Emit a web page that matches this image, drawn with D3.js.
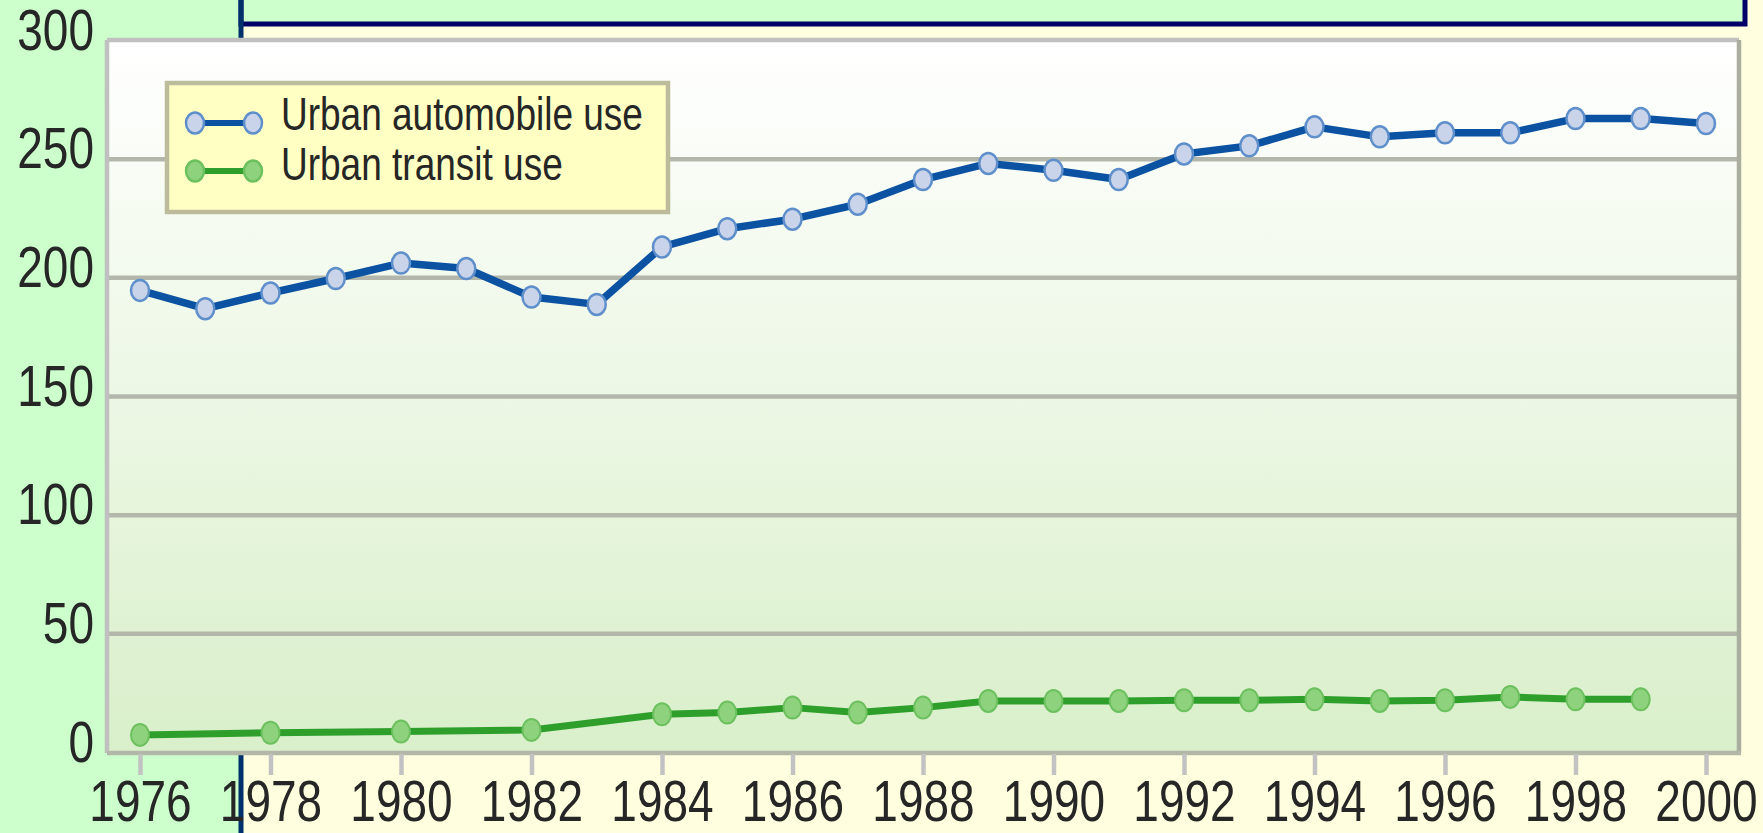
<!DOCTYPE html>
<html>
<head>
<meta charset="utf-8">
<script src="https://cdn.jsdelivr.net/npm/d3@7"></script>
<style>
  body { margin: 0; background: #ffffe0; overflow: hidden; }
  text { font-family: "Liberation Sans", Arial, sans-serif; fill: #262626; }
</style>
</head>
<body>
<div id="chart"></div>
<script>
// Data
const autoYears = [1976, 1977, 1978, 1979, 1980, 1981, 1982, 1983, 1984, 1985, 1986, 1987, 1988,
  1989, 1990, 1991, 1992, 1993, 1994, 1995, 1996, 1997, 1998, 1999, 2000];
const autoUse = [194.5, 186.8, 193.4, 199.5, 206, 203.7, 191.7, 188.6, 212.8, 220.5, 224.5, 230.8, 241.2,
  248, 245.1, 241.2, 252, 255.4, 263.4, 259.2, 260.9, 260.9, 266.9, 266.9, 264.8];
const transitYears = [1976, 1978, 1980, 1982, 1984, 1985, 1986, 1987, 1988, 1989, 1990, 1991, 1992,
  1993, 1994, 1995, 1996, 1997, 1998, 1999];
const transitUse = [7.2, 8.1, 8.6, 9.3, 15.9, 16.6, 18.7, 16.6, 18.7, 21.5, 21.5, 21.5, 21.8,
  21.8, 22.2, 21.5, 21.8, 23.2, 22.2, 22.2];
const xTickYears = [1976, 1978, 1980, 1982, 1984, 1986, 1988, 1990, 1992, 1994, 1996, 1998, 2000];
const yTickValues = [0, 50, 100, 150, 200, 250, 300];
const seriesNames = ["Urban automobile use", "Urban transit use"];

// Page and plot geometry
const W = 1763, H = 833;
const plot = { left: 107, right: 1739, top: 40, bottom: 753 };
const textStretch = 1.25;

const svg = d3.select("#chart").append("svg")
  .attr("width", W)
  .attr("height", H);

// Page backgrounds behind the chart
svg.append("rect").attr("x", 0).attr("y", 0).attr("width", 240).attr("height", H).attr("fill", "#ccffcc");
svg.append("rect").attr("x", 241).attr("y", -10).attr("width", 1504).attr("height", 34)
  .attr("fill", "#ccffcc").attr("stroke", "#000066").attr("stroke-width", 5);
svg.append("line").attr("x1", 241).attr("x2", 241).attr("y1", 0).attr("y2", H)
  .attr("stroke", "#00306a").attr("stroke-width", 5);

// Plot background gradient
const defs = svg.append("defs");
const grad = defs.append("linearGradient").attr("id", "plotBg")
  .attr("x1", 0).attr("y1", 0).attr("x2", 0).attr("y2", 1);
grad.append("stop").attr("offset", "0%").attr("stop-color", "#ffffff");
grad.append("stop").attr("offset", "100%").attr("stop-color", "#d9efca");

svg.append("rect")
  .attr("x", plot.left).attr("y", plot.top)
  .attr("width", plot.right - plot.left).attr("height", plot.bottom - plot.top)
  .attr("fill", "url(#plotBg)");

// Scales
const x = d3.scaleLinear().domain([1976, 2000]).range([140, 1706]);
const y = d3.scaleLinear().domain([0, 300]).range([plot.bottom - 1, plot.top]);

// Gridlines
svg.append("g")
  .attr("transform", `translate(${plot.left}, 0)`)
  .call(d3.axisLeft(y).tickValues(yTickValues.filter((d) => d > 0 && d < 300))
    .tickSize(-(plot.right - plot.left)).tickFormat(""))
  .call((g) => g.select(".domain").remove())
  .selectAll("line")
  .attr("stroke", "#b3b7ab")
  .attr("stroke-width", 4.5);

// Plot border
svg.append("line").attr("x1", plot.left).attr("x2", plot.right).attr("y1", plot.top).attr("y2", plot.top)
  .attr("stroke", "#c0c0c0").attr("stroke-width", 4.5);
svg.append("line").attr("x1", plot.left).attr("x2", plot.left).attr("y1", plot.top).attr("y2", plot.bottom)
  .attr("stroke", "#c0c0c0").attr("stroke-width", 4.5);
svg.append("line").attr("x1", plot.right).attr("x2", plot.right).attr("y1", plot.top).attr("y2", plot.bottom)
  .attr("stroke", "#aaae9e").attr("stroke-width", 4.5);
svg.append("line").attr("x1", plot.left).attr("x2", plot.right + 2).attr("y1", plot.bottom).attr("y2", plot.bottom)
  .attr("stroke", "#b3b7a8").attr("stroke-width", 4.5);

// Y axis labels
svg.append("g")
  .attr("transform", `translate(${plot.left}, 0)`)
  .call(d3.axisLeft(y).tickValues(yTickValues).tickSize(0))
  .call((g) => g.select(".domain").remove())
  .selectAll("text")
  .attr("x", null)
  .attr("dy", null)
  .attr("text-anchor", "end")
  .attr("transform", `translate(-13, 9) scale(1, ${textStretch})`)
  .style("font-size", "46px")
  .style("fill", "#262626");

// X axis ticks and labels
svg.append("g")
  .attr("transform", `translate(0, ${plot.bottom + 1})`)
  .call(d3.axisBottom(x).tickValues(xTickYears).tickSize(21).tickFormat(d3.format("d")))
  .call((g) => g.select(".domain").remove())
  .call((g) => g.selectAll("line").attr("stroke", "#c2c2c2").attr("stroke-width", 4.5))
  .selectAll("text")
  .attr("y", null)
  .attr("dy", null)
  .attr("text-anchor", "middle")
  .attr("transform", `translate(0, 67) scale(1, ${textStretch})`)
  .style("font-size", "46px")
  .style("fill", "#262626");

// Series lines
const autoPts = autoYears.map((yr, i) => [yr, autoUse[i]]);
const transitPts = transitYears.map((yr, i) => [yr, transitUse[i]]);
const line = d3.line().x((d) => x(d[0])).y((d) => y(d[1]));

svg.append("path").datum(transitPts)
  .attr("fill", "none").attr("stroke", "#2f9f2c").attr("stroke-width", 7)
  .attr("stroke-linejoin", "round").attr("d", line);
svg.append("g").selectAll("ellipse").data(transitPts).enter().append("ellipse")
  .attr("cx", (d) => x(d[0])).attr("cy", (d) => y(d[1]))
  .attr("rx", 9).attr("ry", 11)
  .attr("fill", "#8fd27e").attr("stroke", "#6cc05e").attr("stroke-width", 2);

svg.append("path").datum(autoPts)
  .attr("fill", "none").attr("stroke", "#0b52a2").attr("stroke-width", 7.5)
  .attr("stroke-linejoin", "round").attr("d", line);
svg.append("g").selectAll("ellipse").data(autoPts).enter().append("ellipse")
  .attr("cx", (d) => x(d[0])).attr("cy", (d) => y(d[1]))
  .attr("rx", 9).attr("ry", 10.5)
  .attr("fill", "#c9d4ea").attr("stroke", "#5f8fcb").attr("stroke-width", 2.5);

// Legend
const legend = svg.append("g");
legend.append("rect")
  .attr("x", 167).attr("y", 83).attr("width", 501).attr("height", 129)
  .attr("fill", "#ffffc4").attr("stroke", "#bcbc9c").attr("stroke-width", 4.5);

const legendItems = [
  { name: seriesNames[0], cy: 123, base: 130, line: "#0b52a2", fill: "#c9d4ea", edge: "#5f8fcb" },
  { name: seriesNames[1], cy: 171, base: 180, line: "#2f9f2c", fill: "#8fd27e", edge: "#6cc05e" }
];
legendItems.forEach((it) => {
  legend.append("line").attr("x1", 195).attr("x2", 253).attr("y1", it.cy).attr("y2", it.cy)
    .attr("stroke", it.line).attr("stroke-width", 6);
  [195, 253].forEach((cx) => {
    legend.append("ellipse").attr("cx", cx).attr("cy", it.cy).attr("rx", 9).attr("ry", 10.5)
      .attr("fill", it.fill).attr("stroke", it.edge).attr("stroke-width", 2.5);
  });
  legend.append("text")
    .attr("transform", `translate(281, ${it.base}) scale(1, ${textStretch})`)
    .style("font-size", "37px")
    .text(it.name);
});
</script>
</body>
</html>
